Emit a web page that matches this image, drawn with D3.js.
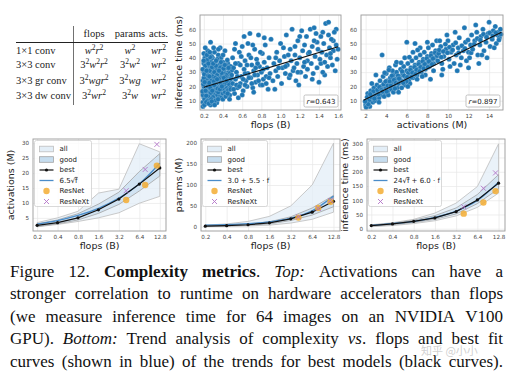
<!DOCTYPE html>
<html>
<head>
<meta charset="utf-8">
<title>Complexity metrics</title>
<script src="https://cdn.jsdelivr.net/npm/d3@7"></script>
<style>
  body { margin: 0; background: #fff; }
</style>
</head>
<body>
<svg id="fig" width="515" height="376"></svg>
<script>

// ---------- data ----------
var tableCols = ["flops", "params", "acts."];
var tableRows = ["1\u00d71 conv", "3\u00d73 conv", "3\u00d73 gr conv", "3\u00d73 dw conv"];
var tableCells = [
  ["w^2r^2", "w^2", "wr^2"],
  ["3^2w^2r^2", "3^2w^2", "wr^2"],
  ["3^2wgr^2", "3^2wg", "wr^2"],
  ["3^2wr^2", "3^2w", "wr^2"]
];

// top left: flops (B) vs inference time (ms)
var flopsTime = [
  [0.19,9],[0.2,12],[0.21,15],[0.2,18],[0.22,21],[0.19,24],[0.21,27],[0.2,30],[0.22,33],[0.2,36],[0.21,40],[0.2,43],
  [0.22,8],[0.23,11],[0.24,14],[0.23,17],[0.25,19],[0.24,23],[0.23,26],[0.25,29],[0.24,32],[0.23,35],[0.25,38],
  [0.26,10],[0.27,13],[0.26,16],[0.28,20],[0.27,22],[0.26,25],[0.28,28],[0.27,31],[0.26,34],[0.28,37],[0.27,51],
  [0.29,9],[0.3,12],[0.31,15],[0.3,18],[0.29,21],[0.31,24],[0.3,27],[0.32,30],[0.3,33],[0.31,36],
  [0.33,11],[0.34,14],[0.33,17],[0.35,20],[0.34,23],[0.33,26],[0.35,29],[0.34,32],[0.36,35],[0.35,42],
  [0.37,13],[0.38,16],[0.37,19],[0.39,22],[0.38,25],[0.37,28],[0.39,31],[0.38,34],[0.4,37],
  [0.4,15],[0.41,18],[0.42,21],[0.41,24],[0.43,27],[0.42,30],[0.44,33],[0.43,17],[0.45,20],[0.44,23],[0.46,26],
  [0.45,36],[0.42,45],[0.38,40],[0.47,14],[0.24,45],[0.29,40],
  [0.19,14],[0.2,20],[0.21,31],[0.22,25],[0.23,29],[0.24,20],[0.25,13],[0.26,31],[0.27,18],[0.28,24],[0.29,27],
  [0.3,9],[0.31,30],[0.32,19],[0.33,22],[0.34,28],[0.35,16],[0.36,24],[0.37,33],[0.38,12],[0.39,27],[0.4,20],
  [0.41,29],[0.42,16],[0.43,35],[0.44,19],[0.46,30],[0.47,24],[0.48,34],[0.2,26],[0.22,38],[0.25,35],[0.28,41],
  [0.31,44],[0.34,39],[0.37,47],[0.4,42],[0.44,28],[0.21,11],[0.24,9],[0.27,7],[0.32,26],
  [0.185,16.5],[0.195,21.5],[0.205,28.5],[0.215,34.5],[0.225,13.5],[0.235,38.5],[0.245,27.5],[0.255,22.5],
  [0.265,40.5],[0.275,15.5],[0.285,33.5],[0.295,12.5],[0.305,23.5],[0.315,20.5],[0.325,34.5],[0.335,8.5],
  [0.345,18.5],[0.355,25.5],[0.365,30.5],[0.375,22.5],[0.385,29.5],[0.395,18.5],[0.405,32.5],[0.415,21.5],
  [0.425,26.5],[0.435,22.5],[0.445,38.5],[0.455,17.5],[0.465,21.5],[0.475,29.5],[0.485,25.5],[0.495,31.5],
  [0.188,32],[0.198,38],[0.208,23],[0.218,17],[0.228,31],[0.238,10],[0.248,36],[0.258,27],[0.268,19],[0.278,11],
  [0.288,17],[0.298,36],[0.308,21],[0.318,10],[0.328,38],[0.338,25],[0.348,11],[0.358,31],[0.368,18],[0.378,37],
  [0.388,20],[0.398,11],[0.408,26],[0.418,35],[0.428,13],[0.438,24],[0.448,15],[0.458,33],[0.468,11],[0.478,19],
  [0.215,47],[0.232,42],[0.262,44],[0.302,47],[0.352,46],[0.19,6],[0.205,7],[0.225,9],[0.252,8],[0.283,9.5],[0.312,7],
  [0.48,18],[0.5,22],[0.49,28],[0.51,33],[0.5,40],[0.52,15],[0.53,25],[0.54,30],[0.55,19],[0.56,36],[0.57,44],
  [0.58,22],[0.59,27],[0.6,48],[0.61,17],[0.62,32],[0.63,38],[0.64,24],[0.65,20],[0.66,29],[0.67,42],[0.68,57],
  [0.69,26],[0.7,35],[0.71,19],[0.72,31],[0.73,46],[0.74,23],[0.75,39],[0.76,28],[0.77,56],[0.78,34],[0.79,21],
  [0.8,30],[0.81,43],[0.82,25],[0.83,37],[0.84,49],[0.85,27],[0.86,33],[0.87,18],[0.88,40],[0.89,29],[0.9,53],
  [0.56,12],[0.6,14],[0.52,46],[0.66,50],[0.72,16],[0.58,35],[0.63,29],[0.74,33],[0.81,21],[0.69,40],[0.54,21],[0.77,24],
  [0.51,18],[0.53,36],[0.55,27],[0.57,20],[0.59,41],[0.61,25],[0.63,21],[0.65,35],[0.67,26],[0.7,22],[0.73,28],
  [0.76,36],[0.79,44],[0.82,32],[0.85,22],[0.88,26],[0.62,55],[0.71,49],[0.83,54],[0.53,50],
  [0.92,24],[0.93,36],[0.95,31],[0.96,44],[0.97,27],[0.99,38],[1.0,50],[1.01,22],[1.02,33],[1.04,41],[1.05,29],
  [1.06,56],[1.07,35],[1.09,26],[1.1,46],[1.11,38],[1.12,60],[1.13,31],[1.15,42],[1.16,24],[1.17,36],[1.18,52],
  [1.2,40],[1.21,30],[1.22,59],[1.23,45],[1.24,34],[1.25,49],[1.26,27],[1.27,55],[1.28,38],[1.29,43],
  [0.94,18],[1.03,47],[1.14,33],[1.19,21],
  [0.95,40],[1.05,34],[1.15,48],[1.25,37],[1.3,44],[1.38,51],[1.46,28],[1.55,52],[1.1,28],[1.2,55],[0.98,33],
  [1.08,42],[1.18,30],[1.28,32],[1.42,36],[1.5,56],[1.58,60],[1.33,25],
  [1.31,60],[1.32,36],[1.33,48],[1.34,29],[1.35,52],[1.36,41],[1.37,57],[1.38,33],[1.39,46],[1.4,23],[1.41,39],
  [1.42,55],[1.43,44],[1.44,30],[1.45,50],[1.46,37],[1.47,64],[1.48,42],[1.49,34],[1.5,65],[1.51,47],[1.52,40],
  [1.53,53],[1.54,35],[1.55,45],[1.56,58],[1.57,31],[1.58,49],[1.59,39],[1.6,46],[1.35,61],[1.44,58],[1.52,43]
];
var flopsFitX = [0.2, 1.6];
var flopsFitY = [19.4, 47.8];

// top right: activations (M) vs inference time (ms)
var actsTime = [
  [2.0,7],[2.1,9],[2.2,11],[2.3,8],[2.4,12],[2.5,10],[2.6,14],[2.7,9],[2.8,13],[2.9,16],[3.0,11],[3.1,15],
  [3.2,18],[3.3,12],[3.4,16],[3.5,20],[3.6,14],[3.7,18],[3.8,22],[3.9,15],[4.0,19],[4.1,24],[4.2,17],[4.3,21],
  [4.4,26],[4.5,18],[4.6,23],[4.7,28],[4.8,20],[4.9,25],[5.0,30],[2.2,15],[2.5,17],[2.8,19],[3.1,21],[3.4,24],
  [3.7,27],[4.0,29],[4.3,33],[4.6,31],[4.9,35],[2.4,6],[2.9,10],[3.3,9],[3.8,13],[4.2,14],[4.7,16],[5.1,19],
  [3.6,42],[3.0,28],[2.6,22],
  [2.15,12.5],[2.35,10.5],[2.55,12.5],[2.75,16.5],[2.95,13.5],[3.15,17.5],[3.35,19.5],[3.55,17.5],[3.75,21.5],
  [3.95,23.5],[4.15,20.5],[4.35,23.5],[4.55,27.5],[4.75,24.5],[4.95,22.5],[2.45,14.5],[2.85,11.5],[3.25,14.5],
  [3.65,16.5],[4.05,16.5],[4.45,20.5],[4.85,18.5],[4.25,31.5],[3.85,29.5],[2.05,5.5],[2.25,7.5],[1.95,9.5],
  [5.2,22],[5.3,27],[5.4,32],[5.5,24],[5.6,29],[5.7,34],[5.8,21],[5.9,26],[6.0,31],[6.0,51],[6.1,36],[6.2,24],
  [6.3,28],[6.4,33],[6.5,38],[6.6,26],[6.7,30],[6.8,35],[6.9,40],[7.0,28],[7.1,32],[7.2,37],[7.3,42],[7.4,30],
  [7.5,34],[7.6,39],[7.7,44],[7.8,32],[7.9,36],[8.0,41],[8.1,47],[8.2,34],[8.3,38],[8.4,43],[8.5,49],[8.6,36],
  [8.7,40],[8.8,45],[8.9,52],[9.0,38],[5.5,19],[6.3,22],[7.0,25],[7.8,28],[8.6,31],[5.0,37],[5.8,40],[6.6,44],
  [7.3,47],[8.0,51],[6.8,50],[7.5,27],[5.2,16],[6.1,20],
  [5.15,27.5],[5.35,24.5],[5.55,30.5],[5.75,27.5],[5.95,23.5],[6.15,29.5],[6.35,31.5],[6.55,29.5],[6.75,33.5],
  [6.95,31.5],[7.15,35.5],[7.35,33.5],[7.55,37.5],[7.75,35.5],[7.95,39.5],[8.15,37.5],[8.35,41.5],[8.55,39.5],
  [8.75,43.5],[8.95,41.5],[5.25,25.5],[5.65,22.5],[6.05,26.5],[6.45,26.5],[6.85,28.5],[7.25,30.5],[7.65,32.5],
  [8.05,33.5],[8.45,35.5],[5.45,36.5],[6.25,40.5],[7.05,45.5],[8.3,25],
  [9.1,43],[9.3,48],[9.4,36],[9.6,41],[9.8,46],[10.0,52],[10.1,39],[10.3,44],[10.5,49],[10.6,36],[10.8,42],
  [11.0,47],[11.1,54],[11.3,40],[11.5,45],[11.7,51],[11.8,38],[12.0,44],[12.2,49],[12.3,56],[9.5,32],[10.2,34],
  [11.2,35],[9.9,56],[10.7,58],[11.6,61],[12.1,40],[9.2,52],
  [9.15,45.5],[9.35,40.5],[9.55,44.5],[9.75,49.5],[9.95,43.5],[10.15,47.5],[10.45,45.5],[10.75,50.5],[11.05,43.5],
  [11.35,48.5],[11.65,46.5],[11.95,52.5],[12.25,43.5],[10.9,31],[12.0,33],[9.4,28],
  [12.4,46],[12.6,52],[12.7,63],[12.9,42],[13.1,49],[13.2,55],[13.4,60],[13.5,45],[13.7,51],[13.9,57],[14.0,65],
  [14.1,48],[14.3,53],[14.4,59],[14.6,62],[14.7,50],[14.8,56],[14.9,58],[15.0,54],[13.0,36],[13.8,40],[14.5,47],
  [15.1,60],[12.8,58],[13.3,42],
  [12.55,49.5],[12.85,53.5],[13.15,52.5],[13.45,56.5],[13.75,54.5],[14.05,57.5],[14.35,55.5],[14.65,57.5],
  [14.95,52.5],[15.15,56.5]
];
var actsFitX = [1.8, 15.2];
var actsFitY = [10.3, 58];

var flopsTicks = [0.2, 0.4, 0.6, 0.8, 1.0, 1.2, 1.4, 1.6];
var actsTicks = [2, 4, 6, 8, 10, 12, 14];
var timeTicks = [10, 20, 30, 40, 50, 60];

// bottom row: trends vs flops
var flopsB = [0.2, 0.4, 0.8, 1.6, 3.2, 6.4, 12.8];
var flopsLabels = ["0.2", "0.4", "0.8", "1.6", "3.2", "6.4", "12.8"];
var resnetFlops = [4.1, 7.8, 11.6];

var actBest   = [2.5, 3.4, 5.0, 7.7, 11.3, 16.3, 21.7];
var actFit    = [2.9, 4.1, 5.8, 8.2, 11.6, 16.4, 23.3];
var actAllLo  = [2.0, 2.8, 3.8, 5.0, 6.7, 9.9, 12.2];
var actAllHi  = [3.4, 5.0, 7.2, 13.3, 14.6, 29.8, 27.1];
var actGoodLo = [2.1, 3.0, 4.3, 6.5, 9.5, 14.0, 19.0];
var actGoodHi = [3.0, 4.3, 6.4, 9.6, 13.6, 20.5, 26.5];
var actResNet  = [11.0, 16.0, 22.5];
var actResNeXt = [14.1, 21.2, 29.6];

var parBest   = [1.5, 2.8, 5.0, 9.5, 19, 35, 61];
var parFit    = [4.1, 5.2, 7.4, 11.8, 20.6, 38.2, 73.4];
var parAllLo  = [0.5, 1.0, 2.0, 4.0, 9, 18, 35];
var parAllHi  = [4, 7, 13, 25, 50, 100, 200];
var parGoodLo = [1.0, 2.0, 3.5, 7, 15, 28, 48];
var parGoodHi = [3.0, 4.5, 7.0, 12, 24, 45, 75];
var parResNet  = [22, 45, 60];
var parResNeXt = [24, 44, 63];

var infBest   = [11, 17, 26, 38, 60, 101, 160];
var infFit    = [12, 18, 26, 40, 62, 99, 163];
var infAllLo  = [7, 11, 18, 28, 45, 75, 125];
var infAllHi  = [14, 21, 33, 55, 90, 148, 298];
var infGoodLo = [9, 14, 22, 33, 52, 88, 140];
var infGoodHi = [13, 19, 30, 46, 73, 120, 190];
var infResNet  = [53, 92, 132];
var infResNeXt = [77, 142, 196];

var captionLines = [
  "Figure 12. **Complexity metrics**. _Top:_ Activations can have a",
  "stronger correlation to runtime on hardware accelerators than flops",
  "(we measure inference time for 64 images on an NVIDIA V100",
  "GPU). _Bottom:_ Trend analysis of complexity _vs_. flops and best fit",
  "curves (shown in blue) of the trends for best models (black curves)."
];

// ---------- drawing ----------
var svg = d3.select("#fig");
var serif = "'Liberation Serif', 'Times New Roman', serif";
var sans = "'DejaVu Sans', sans-serif";
var blue = "#1f77b4";

// table
function mathText(sel, str) {
  var shift = 0;
  for (var i = 0; i < str.length; i++) {
    var ch = str[i];
    if (ch === "^") {
      sel.append("tspan").attr("dy", -4).attr("font-size", 7.6).attr("font-style", "normal").text(str[++i]);
      shift = 4;
      continue;
    }
    var t = sel.append("tspan").text(ch).attr("font-style", /[a-z]/.test(ch) ? "italic" : "normal");
    if (shift) { t.attr("dy", shift); shift = 0; }
  }
}

var colX = [94, 130, 158.5];
var rowY = [54, 68, 83.5, 99];
svg.append("line").attr("x1", 73.5).attr("x2", 73.5).attr("y1", 26).attr("y2", 105)
  .attr("stroke", "#333").attr("stroke-width", 0.7);
svg.append("line").attr("x1", 16).attr("x2", 168).attr("y1", 42.5).attr("y2", 42.5)
  .attr("stroke", "#222").attr("stroke-width", 1.2);
svg.selectAll(".thead").data(tableCols).enter().append("text")
  .attr("x", (d, i) => colX[i]).attr("y", 36.5)
  .attr("text-anchor", "middle").attr("font-family", serif).attr("font-size", 10.5).attr("fill", "#222")
  .text(d => d);
svg.selectAll(".trow").data(tableRows).enter().append("text")
  .attr("x", 16).attr("y", (d, i) => rowY[i])
  .attr("font-family", serif).attr("font-size", 10.5).attr("fill", "#222")
  .text(d => d);
tableCells.forEach(function(row, r) {
  row.forEach(function(cell, c) {
    var t = svg.append("text").attr("x", colX[c]).attr("y", rowY[r])
      .attr("text-anchor", "middle").attr("font-family", serif).attr("font-size", 10.5).attr("fill", "#222");
    mathText(t, cell);
  });
});

function styleAxis(g) {
  g.select(".domain").remove();
  g.attr("font-family", sans).attr("font-size", 5.6);
  g.selectAll("line").attr("stroke", "#e6e6e6").attr("stroke-width", 0.7);
  g.selectAll("text").attr("fill", "#444");
}

function frame(o) {
  svg.append("rect").attr("x", o.left).attr("y", o.top)
    .attr("width", o.right - o.left).attr("height", o.bottom - o.top)
    .attr("fill", "none").attr("stroke", "#9a9a9a").attr("stroke-width", 0.9);
}

function drawScatter(pts, fitX, fitY, o) {
  var x = d3.scaleLinear().domain(o.xDomain).range([o.left, o.right]);
  var y = d3.scaleLinear().domain(o.yDomain).range([o.bottom, o.top]);
  var w = o.right - o.left, h = o.bottom - o.top;

  svg.append("g").attr("transform", `translate(0,${o.bottom})`)
    .call(d3.axisBottom(x).tickValues(o.xTicks).tickSize(-h).tickPadding(4).tickFormat(d3.format(o.xFmt)))
    .call(styleAxis);
  svg.append("g").attr("transform", `translate(${o.left},0)`)
    .call(d3.axisLeft(y).tickValues(timeTicks).tickSize(-w).tickPadding(4))
    .call(styleAxis);

  svg.append("g").selectAll("circle").data(pts).enter().append("circle")
    .attr("cx", d => x(d[0])).attr("cy", d => y(d[1])).attr("r", 2.5)
    .attr("fill", blue).attr("stroke", "#fff").attr("stroke-width", 0.2);

  var line = d3.line().x(d => x(d[0])).y(d => y(d[1]));
  svg.append("path").attr("d", line(d3.zip(fitX, fitY)))
    .attr("stroke", "#111").attr("stroke-width", 1.1).attr("fill", "none");

  frame(o);

  // r box
  var bx = o.right - 37, by = o.bottom - 15;
  svg.append("rect").attr("x", bx).attr("y", by).attr("width", 34).attr("height", 12).attr("rx", 1.5)
    .attr("fill", "#fff").attr("stroke", "#aaa").attr("stroke-width", 0.7);
  var rt = svg.append("text").attr("x", bx + 17).attr("y", by + 8.6).attr("text-anchor", "middle")
    .attr("font-family", sans).attr("font-size", 7).attr("fill", "#222");
  rt.append("tspan").attr("font-style", "italic").text("r");
  rt.append("tspan").text("=" + o.r);

  if (o.yLabel) {
    svg.append("text").attr("transform", `translate(${o.left - 18},${(o.top + o.bottom) / 2}) rotate(-90)`)
      .attr("text-anchor", "middle").attr("font-family", sans).attr("font-size", 9.5).attr("fill", "#222")
      .text(o.yLabel);
  }
  svg.append("text").attr("x", (o.left + o.right) / 2).attr("y", o.bottom + 17.5)
    .attr("text-anchor", "middle").attr("font-family", sans).attr("font-size", 9.5).attr("fill", "#222")
    .text(o.xLabel);
}

drawScatter(flopsTime, flopsFitX, flopsFitY, {
  left: 200, right: 341, top: 15, bottom: 110, xDomain: [0.16, 1.63], yDomain: [3.5, 70],
  xTicks: flopsTicks, xFmt: ".1f", r: "0.643", xLabel: "flops (B)", yLabel: "inference time (ms)"
});
drawScatter(actsTime, actsFitX, actsFitY, {
  left: 361, right: 503, top: 15, bottom: 110, xDomain: [1.55, 15.35], yDomain: [3.5, 70],
  xTicks: actsTicks, xFmt: "d", r: "0.897", xLabel: "activations (M)", yLabel: null
});

function drawTrend(s, o) {
  var x = d3.scaleLog().base(2).domain([0.174, 15.8]).range([o.left, o.right]);
  var y = d3.scaleLinear().domain(o.yDomain).range([o.bottom, o.top]);
  var w = o.right - o.left, h = o.bottom - o.top;

  svg.append("g").attr("transform", `translate(0,${o.bottom})`)
    .call(d3.axisBottom(x).tickValues(flopsB).tickSize(-h).tickPadding(4).tickFormat((d, i) => flopsLabels[i]))
    .call(styleAxis);
  svg.append("g").attr("transform", `translate(${o.left},0)`)
    .call(d3.axisLeft(y).tickValues(o.yTicks).tickSize(-w).tickPadding(4))
    .call(styleAxis);

  var area = d3.area().x(d => x(d[0])).y0(d => y(d[1])).y1(d => y(d[2]));
  svg.append("path").attr("d", area(d3.zip(flopsB, s.allLo, s.allHi)))
    .attr("fill", "#e3eef7").attr("fill-opacity", 0.75).attr("stroke", "#bdbdbd").attr("stroke-width", 0.8);
  svg.append("path").attr("d", area(d3.zip(flopsB, s.goodLo, s.goodHi)))
    .attr("fill", "#c6ddef").attr("fill-opacity", 0.7).attr("stroke", "#a3a3a3").attr("stroke-width", 0.8);

  var line = d3.line().x(d => x(d[0])).y(d => y(d[1]));
  svg.append("path").attr("d", line.curve(d3.curveMonotoneX)(d3.zip(flopsB, s.fit)))
    .attr("stroke", "#4a8cc9").attr("stroke-width", 1.3).attr("fill", "none");
  svg.append("path").attr("d", line.curve(d3.curveLinear)(d3.zip(flopsB, s.best)))
    .attr("stroke", "#111").attr("stroke-width", 1.2).attr("fill", "none");
  svg.append("g").selectAll("circle").data(d3.zip(flopsB, s.best)).enter().append("circle")
    .attr("cx", d => x(d[0])).attr("cy", d => y(d[1])).attr("r", 1.6).attr("fill", "#111");

  svg.append("g").selectAll("circle").data(d3.zip(resnetFlops, s.resnet)).enter().append("circle")
    .attr("cx", d => x(d[0])).attr("cy", d => y(d[1])).attr("r", 3.2)
    .attr("fill", "#f3ad33").attr("fill-opacity", 0.85);
  var sx = d3.symbol(d3.symbolX, 18);
  svg.append("g").selectAll("path").data(d3.zip(resnetFlops, s.resnext)).enter().append("path")
    .attr("d", sx).attr("transform", d => `translate(${x(d[0])},${y(d[1])})`)
    .attr("fill", "none").attr("stroke", "#b374c8").attr("stroke-width", 0.9);

  frame(o);

  // legend
  var lx = o.left + 1.5, ly = o.top + 1.5;
  svg.append("rect").attr("x", lx).attr("y", ly).attr("width", o.legendW).attr("height", 66).attr("rx", 2)
    .attr("fill", "#fff").attr("fill-opacity", 0.8).attr("stroke", "#cfcfcf").attr("stroke-width", 0.8);
  var hx = lx + 5, hw = 14, tx = lx + 25;
  var rowYs = [9.5, 20, 30.5, 41, 51.5, 62].map(v => ly + v - 1);
  svg.append("rect").attr("x", hx).attr("y", rowYs[0] - 2.8).attr("width", hw).attr("height", 5.6)
    .attr("fill", "#e3eef7").attr("stroke", "#bdbdbd").attr("stroke-width", 0.8);
  svg.append("rect").attr("x", hx).attr("y", rowYs[1] - 2.8).attr("width", hw).attr("height", 5.6)
    .attr("fill", "#c6ddef").attr("stroke", "#a3a3a3").attr("stroke-width", 0.8);
  svg.append("line").attr("x1", hx).attr("x2", hx + hw).attr("y1", rowYs[2]).attr("y2", rowYs[2])
    .attr("stroke", "#111").attr("stroke-width", 1.2);
  svg.append("circle").attr("cx", hx + hw / 2).attr("cy", rowYs[2]).attr("r", 1.6).attr("fill", "#111");
  svg.append("line").attr("x1", hx).attr("x2", hx + hw).attr("y1", rowYs[3]).attr("y2", rowYs[3])
    .attr("stroke", "#4a8cc9").attr("stroke-width", 1.3);
  svg.append("circle").attr("cx", hx + hw / 2).attr("cy", rowYs[4]).attr("r", 3.2)
    .attr("fill", "#f3ad33").attr("fill-opacity", 0.85);
  svg.append("path").attr("d", sx).attr("transform", `translate(${hx + hw / 2},${rowYs[5]})`)
    .attr("fill", "none").attr("stroke", "#b374c8").attr("stroke-width", 0.9);

  var labels = [[["all"]], [["good"]], [["best"]], o.fitLabel, [["ResNet"]], [["ResNeXt"]]];
  labels.forEach(function(pieces, i) {
    var t = svg.append("text").attr("x", tx).attr("y", rowYs[i]).attr("dy", "0.35em")
      .attr("font-family", sans).attr("font-size", 7).attr("fill", "#222");
    pieces.forEach(function(p) {
      var sp = t.append("tspan").text(p[0]);
      if (p[1]) sp.style("text-decoration", "overline");
    });
  });

  svg.append("text").attr("transform", `translate(${o.left - 19.5},${(o.top + o.bottom) / 2}) rotate(-90)`)
    .attr("text-anchor", "middle").attr("font-family", sans).attr("font-size", 9.5).attr("fill", "#222")
    .text(o.yLabel);
  svg.append("text").attr("x", (o.left + o.right) / 2).attr("y", o.bottom + 17.5)
    .attr("text-anchor", "middle").attr("font-family", sans).attr("font-size", 9.5).attr("fill", "#222")
    .text("flops (B)");
}

drawTrend({ best: actBest, fit: actFit, allLo: actAllLo, allHi: actAllHi, goodLo: actGoodLo, goodHi: actGoodHi,
            resnet: actResNet, resnext: actResNeXt },
  { left: 33, right: 166, top: 139, bottom: 231, yDomain: [0.6, 31.4], yTicks: [5, 10, 15, 20, 25, 30],
    legendW: 57, yLabel: "activations (M)", fitLabel: [["6.5\u221a"], ["f", true]] });
drawTrend({ best: parBest, fit: parFit, allLo: parAllLo, allHi: parAllHi, goodLo: parGoodLo, goodHi: parGoodHi,
            resnet: parResNet, resnext: parResNeXt },
  { left: 201, right: 340, top: 139, bottom: 231, yDomain: [-10, 210], yTicks: [0, 50, 100, 150, 200],
    legendW: 65, yLabel: "params (M)", fitLabel: [["3.0 + 5.5 \u00b7 f"]] });
drawTrend({ best: infBest, fit: infFit, allLo: infAllLo, allHi: infAllHi, goodLo: infGoodLo, goodHi: infGoodHi,
            resnet: infResNet, resnext: infResNeXt },
  { left: 367, right: 505, top: 139, bottom: 231, yDomain: [-8, 315], yTicks: [0, 50, 100, 150, 200, 250, 300],
    legendW: 73, yLabel: "inference time (ms)", fitLabel: [["24\u221a"], ["f", true], [" + 6.0 \u00b7 f"]] });

// caption, justified word by word
var capLeft = 10, capRight = 503, capY0 = 276.5, capStep = 22.5;
captionLines.forEach(function(str, li) {
  var bold = false, ital = false;
  var words = str.split(" ").map(function(wd) {
    var runs = [];
    wd.split(/(\*\*|_)/).forEach(function(part) {
      if (part === "**") bold = !bold;
      else if (part === "_") ital = !ital;
      else if (part) runs.push([part, bold, ital]);
    });
    return runs;
  });
  var nodes = words.map(function(runs) {
    var t = svg.append("text").attr("y", capY0 + li * capStep)
      .attr("font-family", serif).attr("font-size", 17).attr("fill", "#111");
    runs.forEach(function(r) {
      t.append("tspan").text(r[0]).attr("font-weight", r[1] ? "bold" : "normal").attr("font-style", r[2] ? "italic" : "normal");
    });
    return t;
  });
  var widths = nodes.map(n => n.node().getComputedTextLength());
  var gap = (capRight - capLeft - d3.sum(widths)) / (nodes.length - 1);
  var xPos = capLeft;
  nodes.forEach(function(n, i) { n.attr("x", xPos); xPos += widths[i] + gap; });
});

// watermark (sits on the caption as in the source image)
svg.append("text").attr("x", 421).attr("y", 355)
  .attr("font-family", "'Noto Sans CJK SC', sans-serif").attr("font-size", 11)
  .attr("fill", "#c4c4c4").attr("fill-opacity", 0.8)
  .text("知乎 @小小");

</script>
</body>
</html>
